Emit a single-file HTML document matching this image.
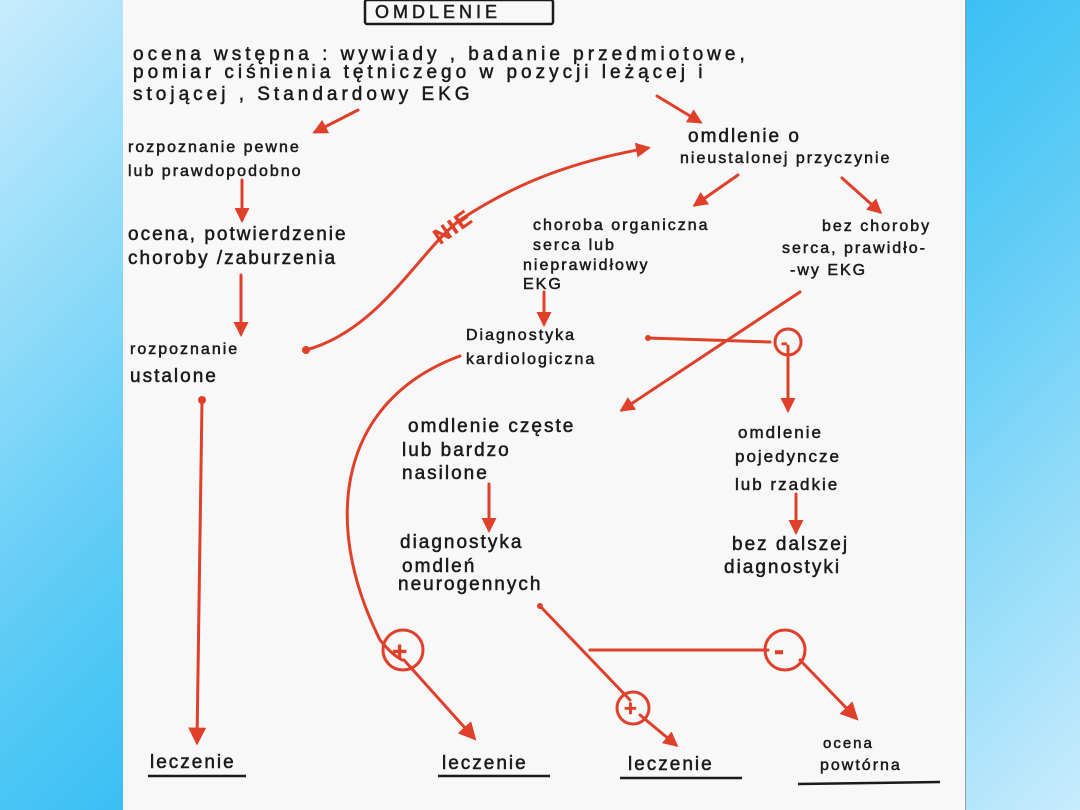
<!DOCTYPE html>
<html><head><meta charset="utf-8"><style>
html,body{margin:0;padding:0}
body{width:1080px;height:810px;overflow:hidden;background:linear-gradient(135deg,#c8ecfc 0%,#5ccbf6 35%,#38bff4 50%,#5ccbf6 65%,#c8ecfc 100%);position:relative}
#paper{position:absolute;left:123px;top:0;width:842px;height:810px;background:#f8f8f8;border-right:1px solid #999}
svg{position:absolute;left:0;top:0}
text{font-family:"Liberation Sans",sans-serif;fill:#1a1a1a;font-size:19px;letter-spacing:2px;stroke:#1a1a1a;stroke-width:0.5}
.r{stroke:#e0402a;fill:none;stroke-width:3;stroke-linecap:round}
.rf{fill:#e0402a}
</style></head><body>
<div id="paper"></div>
<svg width="1080" height="810" viewBox="0 0 1080 810">
<defs><marker id="a" viewBox="0 0 10 10" refX="8" refY="5" markerWidth="5" markerHeight="5" orient="auto"><path d="M0,0L10,5L0,10z" fill="#e0402a"/></marker>
<marker id="b" viewBox="0 0 10 10" refX="8" refY="5" markerWidth="6" markerHeight="6" orient="auto"><path d="M0,0L10,5L0,10z" fill="#e0402a"/></marker></defs>
<rect x="365" y="0" width="188" height="24" fill="none" stroke="#1a1a1a" stroke-width="2.5" rx="2"/>
<text x="375" y="18" style="font-size:18px;letter-spacing:4px">OMDLENIE</text>
<text x="133" y="60" style="letter-spacing:4px">ocena  wstępna : wywiady , badanie  przedmiotowe,</text>
<text x="133" y="78" style="letter-spacing:4px">pomiar  ciśnienia  tętniczego  w pozycji  leżącej  i</text>
<text x="133" y="100" style="letter-spacing:4px">stojącej  , Standardowy  EKG</text>
<text x="128" y="152" style="font-size:16px">rozpoznanie pewne</text>
<text x="128" y="176" style="font-size:16px">lub   prawdopodobno</text>
<text x="128" y="240">ocena, potwierdzenie</text>
<text x="128" y="264">choroby /zaburzenia</text>
<text x="130" y="354" style="font-size:16px">rozpoznanie</text>
<text x="130" y="382">ustalone</text>
<text x="688" y="142">omdlenie   o</text>
<text x="680" y="163" style="font-size:16px">nieustalonej  przyczynie</text>
<text x="533" y="230" style="font-size:16px">choroba  organiczna</text>
<text x="533" y="250" style="font-size:16px">serca        lub</text>
<text x="523" y="270" style="font-size:16px">nieprawidłowy</text>
<text x="523" y="289" style="font-size:16px">EKG</text>
<text x="822" y="231" style="font-size:16px">bez  choroby</text>
<text x="782" y="253" style="font-size:16px">serca, prawidło-</text>
<text x="790" y="275" style="font-size:16px">-wy EKG</text>
<text x="466" y="340" style="font-size:16px">Diagnostyka</text>
<text x="466" y="364" style="font-size:16px">kardiologiczna</text>
<text x="408" y="432">omdlenie    częste</text>
<text x="402" y="456">lub  bardzo</text>
<text x="402" y="479">nasilone</text>
<text x="738" y="438" style="font-size:17px">omdlenie</text>
<text x="735" y="462" style="font-size:17px">pojedyncze</text>
<text x="735" y="490" style="font-size:17px">lub   rzadkie</text>
<text x="400" y="548">diagnostyka</text>
<text x="402" y="572">omdleń</text>
<text x="398" y="590">neurogennych</text>
<text x="732" y="550">bez  dalszej</text>
<text x="724" y="573">diagnostyki</text>
<text x="150" y="768">leczenie</text>
<text x="442" y="769">leczenie</text>
<text x="628" y="770">leczenie</text>
<text x="823" y="748" style="font-size:15px">ocena</text>
<text x="820" y="770" style="font-size:16px">powtórna</text>
<g stroke="#1a1a1a" stroke-width="2.5">
<line x1="148" y1="776" x2="246" y2="776"/><line x1="438" y1="776" x2="550" y2="776"/>
<line x1="620" y1="778" x2="742" y2="778"/><line x1="798" y1="784" x2="940" y2="782"/></g>
<g class="r" stroke-width="4.5" marker-end="url(#a)">
<line x1="358" y1="110" x2="315" y2="132"/>
<line x1="657" y1="96" x2="700" y2="122"/>
<line x1="242" y1="180" x2="242" y2="220"/>
<line x1="241" y1="275" x2="241" y2="334"/>
<line x1="738" y1="175" x2="695" y2="205"/>
<line x1="842" y1="178" x2="880" y2="212"/>
<line x1="544" y1="292" x2="544" y2="324"/>
<line x1="489" y1="484" x2="489" y2="530"/>
<line x1="796" y1="494" x2="796" y2="532"/>
<line x1="788" y1="346" x2="788" y2="410"/>
</g>
<g class="r" stroke-width="4.5" marker-end="url(#b)">
<line x1="202" y1="400" x2="197" y2="742"/>
<line x1="404" y1="660" x2="474" y2="738"/>
<line x1="800" y1="660" x2="856" y2="718"/>
</g>
<g class="r" stroke-width="3">
<path d="M306,350 C380,330 420,250 460,220 C520,180 580,160 648,148" marker-end="url(#a)"/>
<line x1="800" y1="292" x2="622" y2="410" marker-end="url(#a)"/>
<line x1="640" y1="715" x2="676" y2="745" marker-end="url(#a)"/>
<path d="M460,356 C340,400 320,520 380,640 C390,652 395,656 402,660"/>
<line x1="648" y1="338" x2="770" y2="342"/>
<line x1="540" y1="606" x2="630" y2="700"/>
<line x1="590" y1="650" x2="768" y2="650"/>
</g>
<g class="rf"><circle cx="306" cy="350" r="4"/><circle cx="202" cy="400" r="4"/><circle cx="648" cy="338" r="3"/><circle cx="540" cy="606" r="3"/></g>
<g class="r" stroke-width="3"><circle cx="788" cy="342" r="13"/><circle cx="403" cy="650" r="20"/><circle cx="633" cy="708" r="16"/><circle cx="785" cy="650" r="20"/></g>
<g font-family="Liberation Sans" font-weight="bold" fill="#e0402a">
<text x="781" y="349" style="fill:#e0402a;stroke:#e0402a;font-size:20px">-</text>
<text x="392" y="660" style="fill:#e0402a;stroke:#e0402a;font-size:26px;letter-spacing:0">+</text>
<text x="624" y="716" style="fill:#e0402a;stroke:#e0402a;font-size:22px;letter-spacing:0">+</text>
<text x="774" y="660" style="fill:#e0402a;stroke:#e0402a;font-size:30px;letter-spacing:0">-</text>
<text x="0" y="0" transform="translate(440,245) rotate(-35)" style="fill:#e0402a;stroke:#e0402a;font-size:22px;font-weight:bold">NIE</text>
</g>
</svg>
</body></html>
